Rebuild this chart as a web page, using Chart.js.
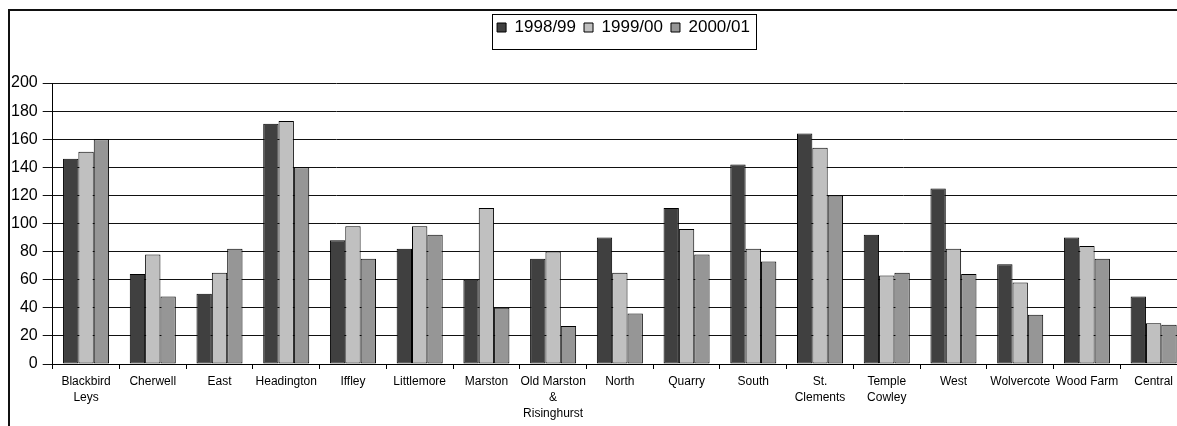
<!DOCTYPE html>
<html>
<head>
<meta charset="utf-8">
<script src="https://cdn.jsdelivr.net/npm/chart.js@4/dist/chart.umd.min.js"></script>
<style>
  html, body { margin: 0; padding: 0; background: #fff; overflow: hidden; }
  #wrap { position: relative; width: 1177px; height: 426px; overflow: hidden; }
  #frame { position: absolute; left: 8px; top: 9px; width: 1300px; height: 430px;
           border-top: 2px solid #111; border-left: 2px solid #111; }
  #box { position: absolute; left: 0; top: 0; width: 1187px; height: 431px; }
</style>
</head>
<body>
<div id="wrap">
  <div id="frame"></div>
  <div id="box"><canvas id="chart"></canvas></div>
</div>
<script>
  // wards
  const wards = [
    ["Blackbird", "Leys"], "Cherwell", "East", "Headington", "Iffley", "Littlemore",
    "Marston", ["Old Marston", "&", "Risinghurst"], "North", "Quarry", "South",
    ["St.", "Clements"], ["Temple", "Cowley"], "West", "Wolvercote", "Wood Farm", "Central"
  ];
  const years = ["1998/99", "1999/00", "2000/01"];

  const y1998 = [146, 64, 50, 171, 88, 82, 60, 75, 90, 111, 142, 164, 92, 125, 71, 90, 48];
  const y1999 = [151, 78, 65, 173, 98, 98, 111, 80, 65, 96, 82, 154, 63, 82, 58, 84, 29];
  const y2000 = [160, 48, 82, 140, 75, 92, 40, 27, 36, 78, 73, 120, 65, 64, 35, 75, 28];

  const yTicks = [0, 20, 40, 60, 80, 100, 120, 140, 160, 180, 200];

  const colours = ["#404040", "#c0c0c0", "#969696"];
  const FONT = "Arial, 'Liberation Sans', sans-serif";
  const LEGEND_SHIFT = 27;

  // legend: extra space below it, shifted right, with a frame around it
  const legendTweaks = {
    id: "legendTweaks",
    beforeInit(chart) {
      const lg = chart.legend;
      const fit = lg.fit;
      lg.fit = function () {
        fit.call(lg);
        lg.height += 38;
      };
      const draw = lg.draw;
      lg.draw = function () {
        const ctx = chart.ctx;
        ctx.save();
        ctx.translate(LEGEND_SHIFT, 1);
        draw.call(lg);
        const hb = lg.legendHitBoxes;
        if (hb && hb.length) {
          const first = hb[0], last = hb[hb.length - 1];
          const l = first.left - 5;
          const r = last.left + last.width + 6;
          const t = first.top - 5;
          const b = first.top + first.height + 13;
          ctx.strokeStyle = "#000";
          ctx.lineWidth = 1;
          ctx.strokeRect(Math.round(l) + 0.5, Math.round(t) + 0.5, Math.round(r - l), Math.round(b - t));
        }
        ctx.restore();
      };
    }
  };

  new Chart(document.getElementById("chart"), {
    type: "bar",
    data: {
      labels: wards,
      datasets: [
        { label: years[0], data: y1998, backgroundColor: colours[0] },
        { label: years[1], data: y1999, backgroundColor: colours[1] },
        { label: years[2], data: y2000, backgroundColor: colours[2] }
      ].map(d => Object.assign(d, {
        borderColor: "#000", borderWidth: 1, borderSkipped: false,
        categoryPercentage: 0.69, barPercentage: 1
      }))
    },
    options: {
      responsive: true,
      maintainAspectRatio: false,
      animation: false,
      layout: { padding: { left: 6, right: 0, top: 10, bottom: 4 } },
      plugins: {
        legend: {
          position: "top",
          labels: {
            boxWidth: 9, boxHeight: 9, padding: 8, color: "#000",
            font: { family: FONT, size: 17 }
          }
        },
        tooltip: { enabled: false }
      },
      scales: {
        x: {
          grid: { display: true, drawOnChartArea: false, drawTicks: true, tickLength: 5, color: "#000" },
          border: { color: "#000", width: 1 },
          ticks: {
            autoSkip: false, maxRotation: 0, color: "#000", padding: 5,
            font: { family: FONT, size: 12, lineHeight: "16px" }
          }
        },
        y: {
          min: 0, max: 200,
          afterBuildTicks(scale) { scale.ticks = yTicks.map(v => ({ value: v })); },
          grid: { color: "#111", lineWidth: 1, tickLength: 10 },
          border: { color: "#000", width: 1 },
          ticks: { color: "#000", padding: 5, font: { family: FONT, size: 16 } }
        }
      }
    },
    plugins: [legendTweaks]
  });
</script>
</body>
</html>
